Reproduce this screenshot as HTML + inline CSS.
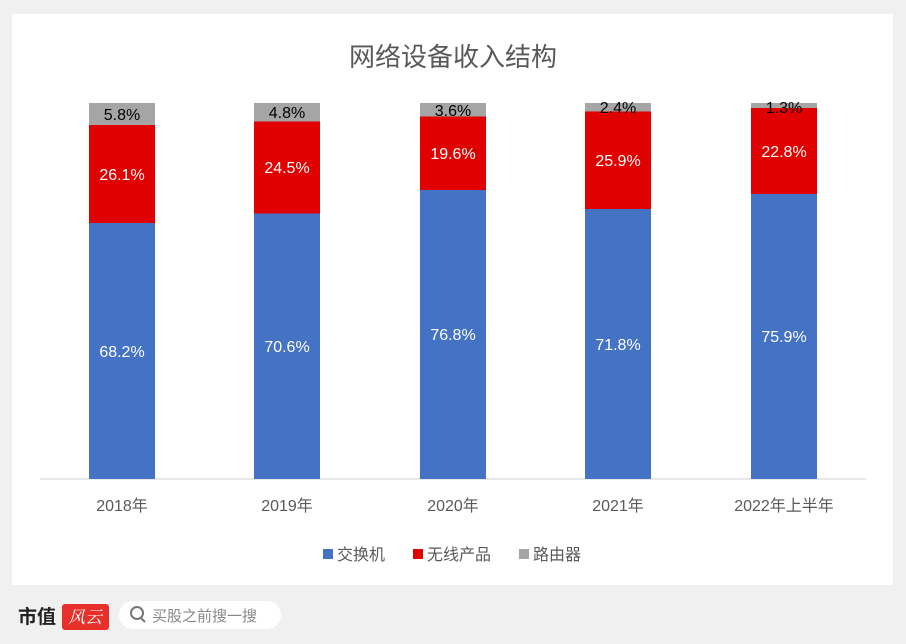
<!DOCTYPE html>
<html><head><meta charset="utf-8"><style>
body{margin:0;width:906px;height:644px;background:#f0f0f0;overflow:hidden;font-family:"Liberation Sans","Noto Sans CJK SC",sans-serif}
</style></head><body>
<svg width="906" height="644" xmlns="http://www.w3.org/2000/svg" style="position:absolute;left:0;top:0">
<rect x="12" y="14" width="881" height="571" fill="#fff"/>
<text x="453" y="66" text-anchor="middle" font-size="26" fill="#595959" font-family="Liberation Sans,Noto Sans CJK SC,sans-serif">网络设备收入结构</text>
<line x1="40" y1="479" x2="866" y2="479" stroke="#d0d0d0"/>
<g font-size="16" text-anchor="middle" font-family="Liberation Sans,Noto Sans CJK SC,sans-serif">
<rect x="89" y="223" width="66" height="256" fill="#4472c4"/><rect x="89" y="125" width="66" height="98" fill="#e00000"/><rect x="89" y="103" width="66" height="22" fill="#a5a5a5"/>
<text x="122" y="357" fill="#fff">68.2%</text><text x="122" y="180" fill="#fff">26.1%</text><text x="122" y="120" fill="#000">5.8%</text>
<rect x="254" y="213.5" width="66" height="265.5" fill="#4472c4"/><rect x="254" y="121.5" width="66" height="92" fill="#e00000"/><rect x="254" y="103" width="66" height="18.5" fill="#a5a5a5"/>
<text x="287" y="352" fill="#fff">70.6%</text><text x="287" y="173" fill="#fff">24.5%</text><text x="287" y="118" fill="#000">4.8%</text>
<rect x="420" y="190" width="66" height="289" fill="#4472c4"/><rect x="420" y="116.5" width="66" height="73.5" fill="#e00000"/><rect x="420" y="103" width="66" height="13.5" fill="#a5a5a5"/>
<text x="453" y="340" fill="#fff">76.8%</text><text x="453" y="159" fill="#fff">19.6%</text><text x="453" y="116" fill="#000">3.6%</text>
<rect x="585" y="209" width="66" height="270" fill="#4472c4"/><rect x="585" y="111.5" width="66" height="97.5" fill="#e00000"/><rect x="585" y="103" width="66" height="8.5" fill="#a5a5a5"/>
<text x="618" y="350" fill="#fff">71.8%</text><text x="618" y="166" fill="#fff">25.9%</text><text x="618" y="113" fill="#000">2.4%</text>
<rect x="751" y="194" width="66" height="285" fill="#4472c4"/><rect x="751" y="108" width="66" height="86" fill="#e00000"/><rect x="751" y="103" width="66" height="5" fill="#a5a5a5"/>
<text x="784" y="342" fill="#fff">75.9%</text><text x="784" y="157" fill="#fff">22.8%</text><text x="784" y="113" fill="#000">1.3%</text>
</g>
<g font-size="16" fill="#595959" text-anchor="middle" font-family="Liberation Sans,Noto Sans CJK SC,sans-serif">
<text x="122" y="511">2018年</text><text x="287" y="511">2019年</text><text x="453" y="511">2020年</text><text x="618" y="511">2021年</text><text x="784" y="511">2022年上半年</text>
</g>
<g font-size="16" fill="#595959" font-family="Liberation Sans,Noto Sans CJK SC,sans-serif">
<rect x="323" y="549" width="10" height="10" fill="#4472c4"/><text x="337" y="560">交换机</text>
<rect x="413" y="549" width="10" height="10" fill="#e00000"/><text x="427" y="560">无线产品</text>
<rect x="519" y="549" width="10" height="10" fill="#a5a5a5"/><text x="533" y="560">路由器</text>
</g>
<text x="18" y="623" font-size="19" font-weight="bold" fill="#222" font-family="Liberation Sans,Noto Sans CJK SC,sans-serif">市值</text>
<rect x="62" y="604" width="47" height="26" rx="3" fill="#e8302a"/>
<text x="85" y="623" font-size="17" fill="#fff" text-anchor="middle" font-style="italic" font-family="Noto Serif CJK SC,serif">风云</text>
<rect x="119" y="601" width="162" height="28" rx="14" fill="#fff"/>
<circle cx="137" cy="613" r="6" fill="none" stroke="#777" stroke-width="2"/><line x1="141" y1="618" x2="145" y2="622" stroke="#777" stroke-width="2"/>
<text x="152" y="621" font-size="15" fill="#888" font-family="Liberation Sans,Noto Sans CJK SC,sans-serif">买股之前搜一搜</text>
</svg>
</body></html>
